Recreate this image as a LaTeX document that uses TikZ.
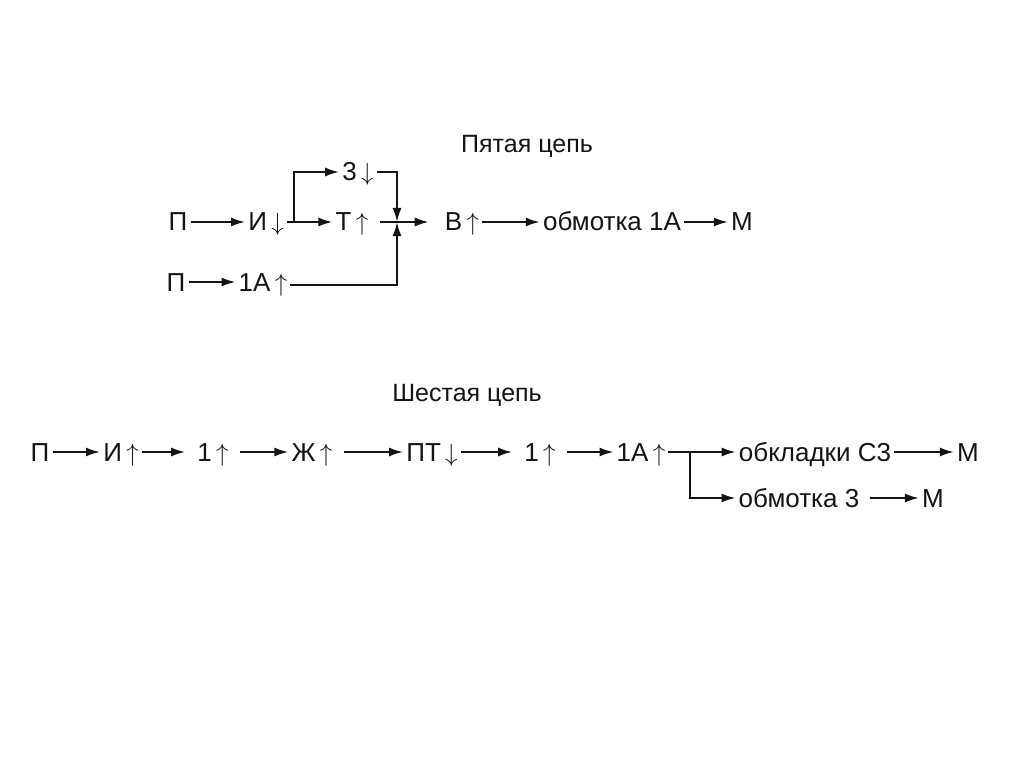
\documentclass[tikz,border=0pt]{standalone}
\usepackage{fontspec}
\setmainfont{Liberation Sans}
\usepackage{tikz}
\usetikzlibrary{positioning,arrows.meta,calc}
\usepackage{xcolor}
\definecolor{chainblack}{RGB}{20,20,20}
\newcommand{\up}{\,$\uparrow$}
\newcommand{\dn}{\,$\downarrow$}

\begin{document}
\begin{tikzpicture}[
  x=1pt,y=-1pt,
  >={Latex[length=14pt,width=9pt]},
  el/.style={inner sep=3pt,text height=18pt,text depth=0pt,font=\fontsize{26}{30}\selectfont,text=chainblack},
  ttl/.style={inner sep=2pt,font=\fontsize{25}{30}\selectfont,text=chainblack},
  ar/.style={->,line width=2pt,chainblack},
  gapl/.style={shorten <=8pt},
  gapr/.style={shorten >=9pt}
]
\useasboundingbox[fill=white] (0,0) rectangle (1024,767);

% FIFTH CIRCUIT
\node[ttl] (tfive) at (527,146) {Пятая цепь};
\node[el] (pa) at (178,222) {П};
\node[el] (ia) at (266,222) {И\dn};
\node[el] (za) at (358,172) {3\dn};
\node[el] (ta) at (352,222) {Т\up};
\node[el] (va) at (462,222) {В\up};
\node[el] (oba) at (612,222) {обмотка 1А};
\node[el] (ma) at (742,222) {М};
\node[el] (pb) at (176,282) {П};
\node[el] (ab) at (263,282) {1А\up};
\coordinate (bra) at (294,222);
\coordinate (jn) at (397,222);

\draw[ar] (pa) -- (ia);
\draw[ar] (ia) -- (ta);
\draw[ar] (bra) |- (za);
\draw[ar] (za.east) -| (jn);
\draw[ar,gapl,shorten >=13pt] (ta) -- (va);
\draw[ar] (ab.east |- 0,285) -| (jn);
\draw[ar] (pb) -- (ab);
\draw[ar] (va) -- (oba);
\draw[ar] (oba) -- (ma);

% SIXTH CIRCUIT
\node[ttl] (tsix) at (467,395) {Шестая цепь};
\node[el] (pc) at (40,452) {П};
\node[el] (ic) at (121,452) {И\up};
\node[el] (oc) at (213,452) {1\up};
\node[el] (zhc) at (312,452) {Ж\up};
\node[el] (ptc) at (432,452) {ПТ\dn};
\node[el] (od) at (540,452) {1\up};
\node[el] (ac) at (641,452) {1А\up};
\node[el] (cc) at (815,452) {обкладки С3};
\node[el] (mc) at (968,452) {М};
\node[el] (obd) at (799,498) {обмотка 3};
\node[el] (md) at (933,498) {М};
\coordinate (brc) at (690,452);

\draw[ar] (pc) -- (ic);
\draw[ar,gapr] (ic) -- (oc);
\draw[ar,gapl] (oc) -- (zhc);
\draw[ar,gapl] (zhc) -- (ptc);
\draw[ar,gapr] (ptc) -- (od);
\draw[ar,gapl] (od) -- (ac);
\draw[ar] (ac) -- (cc);
\draw[ar] (brc) |- (obd);
\draw[ar] (cc) -- (mc);
\draw[ar,gapl] (obd) -- (md);

\end{tikzpicture}
\end{document}
